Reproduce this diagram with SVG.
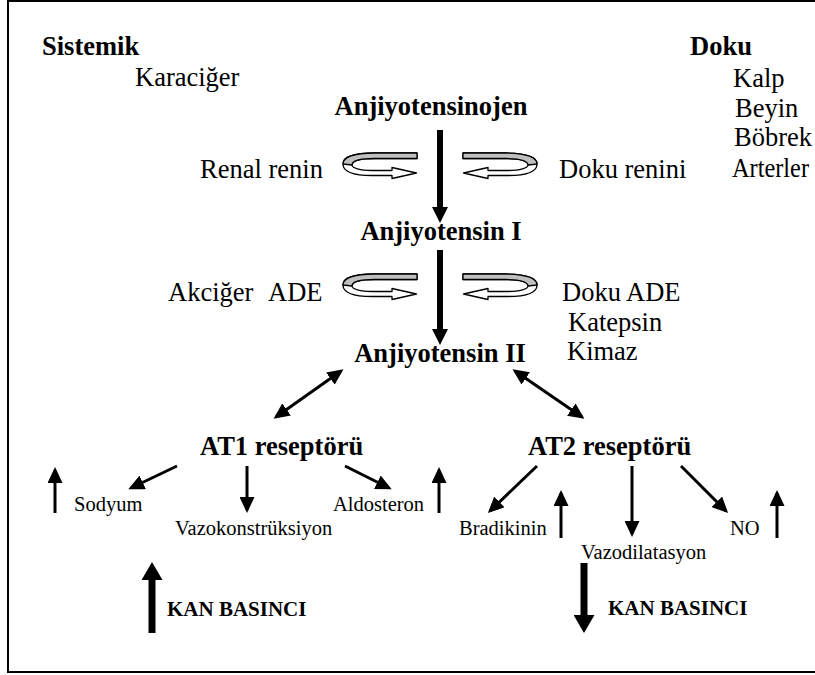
<svg xmlns="http://www.w3.org/2000/svg" xmlns:xlink="http://www.w3.org/1999/xlink" width="815" height="675" viewBox="0 0 815 675">
<style>
text{font-family:"Liberation Serif","Times New Roman",serif;fill:#000}
.b{font-size:26.5px;font-weight:bold}
.r{font-size:26.5px}
.s{font-size:20.5px}
.k{font-size:21px;font-weight:bold}
.ln{stroke:#000;stroke-width:3;fill:none}
.main{stroke:#000;stroke-width:6;fill:none}
.big{stroke:#000;stroke-width:7;fill:none}
.curlw{fill:#fff;stroke:#000;stroke-width:1.3;stroke-linejoin:round}
.curlg{fill:#bfbfbf;stroke:#000;stroke-width:1.3;stroke-linejoin:round}
</style>
<defs>
<marker id="ah" markerUnits="userSpaceOnUse" markerWidth="16" markerHeight="15" refX="13" refY="7.5" orient="auto-start-reverse" viewBox="0 0 16 15"><path d="M0,0 L16,7.5 L0,15 z" fill="#000"/></marker>
<marker id="ahm" markerUnits="userSpaceOnUse" markerWidth="16" markerHeight="16" refX="6" refY="8" orient="auto" viewBox="0 0 16 16"><path d="M0,0 L16,8 L0,16 z" fill="#000"/></marker>
<marker id="ahb" markerUnits="userSpaceOnUse" markerWidth="18" markerHeight="21" refX="5" refY="10.5" orient="auto" viewBox="0 0 18 21"><path d="M0,0 L18,10.5 L0,21 z" fill="#000"/></marker>
<g id="curl">
<path class="curlw" d="M417,153 H375 C352,153 343,158 343,164 C343,171 352,175.5 372,175.5 H392 V178.5 L416.5,173 L392,167.5 V170.5 H372 C360,170.5 352,168 352,165 C352,161 360,158.5 375,158.5 H417 Z"/>
<path class="curlg" d="M417,153 H375 C352,153 343,158 343,164 L352,165 C352,161 360,158.5 375,158.5 H417 Z"/>
</g>
</defs>
<rect x="8" y="1" width="830" height="671" fill="#fff" stroke="#000" stroke-width="2"/>

<g id="sistemik"><text class="b" x="42" y="55">Sistemik</text><text class="r" x="135" y="86">Karaciğer</text></g>
<g id="doku"><text class="b" x="690" y="55">Doku</text><text class="r" x="733" y="87">Kalp</text><text class="r" x="735" y="117">Beyin</text><text class="r" x="734" y="146">Böbrek</text><text class="r" x="732" y="177" textLength="77" lengthAdjust="spacingAndGlyphs">Arterler</text></g>

<g id="anjiyotensinojen"><text class="b" x="431" y="115" text-anchor="middle">Anjiyotensinojen</text></g>
<g id="renal-renin"><text class="r" x="200" y="178">Renal renin</text></g>
<g id="doku-renini"><text class="r" x="559" y="178">Doku renini</text></g>
<g id="anjiyotensin-1"><text class="b" x="441" y="240" text-anchor="middle">Anjiyotensin I</text></g>
<g id="akciger-ade"><text class="r" x="168" y="301">Akciğer<tspan x="268">ADE</tspan></text></g>
<g id="doku-ade"><text class="r" x="562" y="301">Doku ADE</text><text class="r" x="568" y="331">Katepsin</text><text class="r" x="567" y="360">Kimaz</text></g>
<g id="anjiyotensin-2"><text class="b" x="440" y="362" text-anchor="middle">Anjiyotensin II</text></g>
<g id="at1"><text class="b" x="200" y="455">AT1 reseptörü</text></g>
<g id="at2"><text class="b" x="528" y="455">AT2 reseptörü</text></g>
<g id="sodyum"><text class="s" x="74" y="511">Sodyum</text></g>
<g id="vazokonstruksiyon"><text class="s" x="175" y="535">Vazokonstrüksiyon</text></g>
<g id="aldosteron"><text class="s" x="333" y="511">Aldosteron</text></g>
<g id="bradikinin"><text class="s" x="459" y="535">Bradikinin</text></g>
<g id="vazodilatasyon"><text class="s" x="581" y="559">Vazodilatasyon</text></g>
<g id="no"><text class="s" x="730" y="535">NO</text></g>
<g id="kan-basinci-1"><text class="k" x="167" y="616">KAN BASINCI</text></g>
<g id="kan-basinci-2"><text class="k" x="608" y="615">KAN BASINCI</text></g>

<g id="connectors">
<use xlink:href="#curl"/>
<use xlink:href="#curl" transform="translate(880,0) scale(-1,1)"/>
<use xlink:href="#curl" transform="translate(0,121)"/>
<use xlink:href="#curl" transform="translate(880,121) scale(-1,1)"/>
<line class="main" x1="440" y1="130" x2="440" y2="213" marker-end="url(#ahm)"/>
<line class="main" x1="440" y1="250" x2="440" y2="335" marker-end="url(#ahm)"/>
<line class="ln" x1="341" y1="371" x2="276" y2="417" marker-start="url(#ah)" marker-end="url(#ah)"/>
<line class="ln" x1="515" y1="371" x2="582" y2="417" marker-start="url(#ah)" marker-end="url(#ah)"/>
<line class="ln" x1="177" y1="466" x2="131" y2="488" marker-end="url(#ah)"/>
<line class="ln" x1="247" y1="466" x2="247" y2="510" marker-end="url(#ah)"/>
<line class="ln" x1="345" y1="466" x2="389" y2="488" marker-end="url(#ah)"/>
<line class="ln" x1="55" y1="513" x2="55" y2="470" marker-end="url(#ah)"/>
<line class="ln" x1="439" y1="513" x2="439" y2="470" marker-end="url(#ah)"/>
<line class="ln" x1="537" y1="466" x2="490" y2="511" marker-end="url(#ah)"/>
<line class="ln" x1="632" y1="466" x2="632" y2="534" marker-end="url(#ah)"/>
<line class="ln" x1="681" y1="466" x2="726" y2="511" marker-end="url(#ah)"/>
<line class="ln" x1="561" y1="538" x2="561" y2="493" marker-end="url(#ah)"/>
<line class="ln" x1="777" y1="538" x2="777" y2="493" marker-end="url(#ah)"/>
<line class="big" x1="152" y1="633" x2="152" y2="575" marker-end="url(#ahb)"/>
<line class="big" x1="584" y1="563" x2="584" y2="620" marker-end="url(#ahb)"/>
</g>
</svg>
